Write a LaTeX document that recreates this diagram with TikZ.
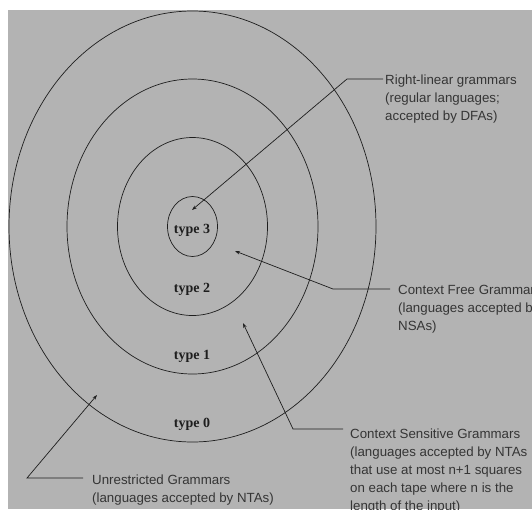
\documentclass[tikz,border=0pt]{standalone}
\usepackage{fontspec}
\setmainfont{Liberation Serif}
\setsansfont{Liberation Sans}
\usetikzlibrary{arrows.meta}
\definecolor{bggray}{HTML}{B3B3B3}
\definecolor{ink}{HTML}{1E1E1E}
\tikzset{
  ring/.style={draw=ink, line width=0.7pt},
  typelabel/.style={font=\fontsize{14}{16}\selectfont\rmfamily\bfseries, text=ink, inner sep=0pt},
  desc/.style={font=\fontsize{13.3}{18}\selectfont\sffamily, text=ink!90, align=left, anchor=north west, inner sep=0pt},
  conn/.style={draw=ink, line width=0.7pt},
  pointer/.style={conn, -{Stealth[length=5pt,width=3.5pt]}}
}
\begin{document}
\begin{tikzpicture}[x=1pt,y=-1pt]
\useasboundingbox (0,0) rectangle (532,509);
\clip (0,0) rectangle (532,509);
\fill[white] (0,0) rectangle (532,509);
\fill[bggray] (8,10) rectangle (532,509);

\coordinate (c) at (192.5,226.5);
\draw[ring] (c) ellipse [x radius=183.5pt, y radius=215.5pt];
\draw[ring] (c) ellipse [x radius=125.5pt, y radius=147.5pt];
\draw[ring] (c) ellipse [x radius=75pt, y radius=89pt];
\draw[ring] (c) ellipse [x radius=25pt, y radius=30pt];

\node[typelabel] (t3) at (192,230) {type 3};
\node[typelabel] (t2) at (192,289) {type 2};
\node[typelabel] (t1) at (192,356) {type 1};
\node[typelabel] (t0) at (192,424) {type 0};

% Right-linear
\node[desc] (rl) at (385,75) {Right-linear grammars\\(regular languages;\\accepted by DFAs)};
\coordinate (rlbend) at (347,79);
\coordinate (rlend) at (383,79);
\coordinate (rltip) at (192,210);
\draw[pointer] (rlend) -- (rlbend) -- (rltip);

% Context free
\node[desc] (cf) at (398,285) {Context Free Grammars\\(languages accepted by\\NSAs)};
\coordinate (cfbend) at (333,289);
\coordinate (cfend) at (390,289);
\coordinate (cftip) at (235,251);
\draw[pointer] (cfend) -- (cfbend) -- (cftip);

% Context sensitive
\node[desc] (cs) at (350,429) {Context Sensitive Grammars\\(languages accepted by NTAs\\that use at most n+1 squares\\on each tape where n is the\\length of the input)};
\coordinate (csbend) at (293,429);
\coordinate (csend) at (343,429);
\coordinate (cstip) at (243,323);
\draw[pointer] (csend) -- (csbend) -- (cstip);

% Unrestricted
\node[desc] (ur) at (92,475) {Unrestricted Grammars\\(languages accepted by NTAs)};
\coordinate (urbend) at (27,478);
\coordinate (urend) at (83,478);
\coordinate (urtip) at (97,395);
\draw[pointer] (urend) -- (urbend) -- (urtip);
\end{tikzpicture}
\end{document}
